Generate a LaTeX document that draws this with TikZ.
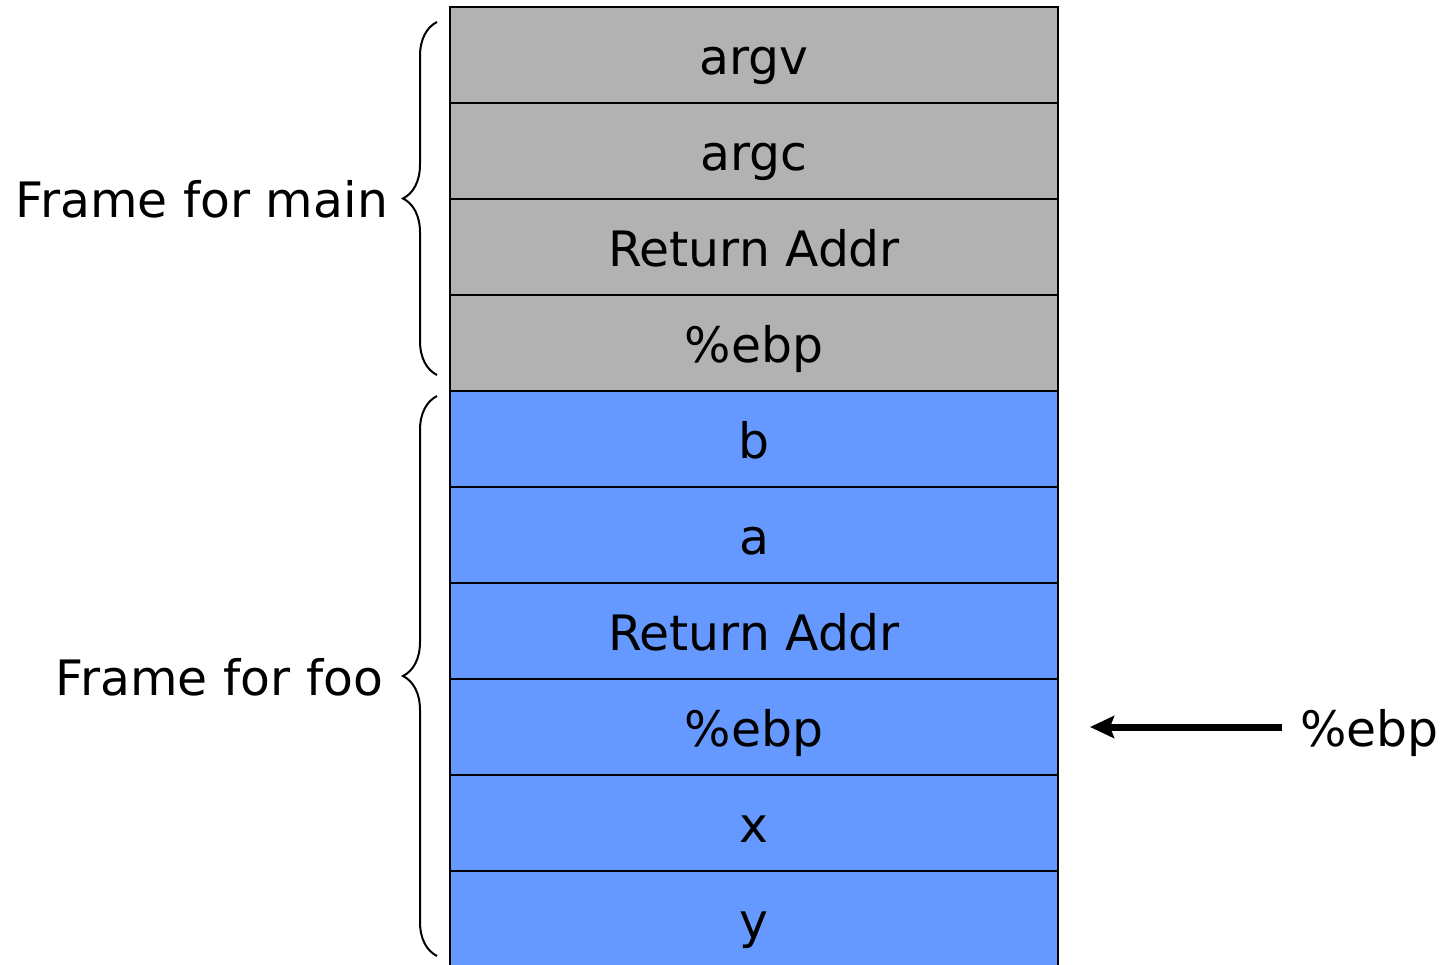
\documentclass[tikz,border=0pt]{standalone}
\usepackage{fontspec}
\setmainfont{DejaVu Sans}
\usetikzlibrary{positioning,decorations.pathreplacing,arrows.meta}
\definecolor{mauxam}{HTML}{B2B2B2}
\definecolor{mauxanh}{HTML}{6699FF}
\begin{document}
\begin{tikzpicture}[x=.5pt,y=-.5pt,
    font=\fontsize{24.4}{29}\selectfont,
    nhan/.style={inner sep=0pt,outer sep=0pt,text height=21pt,text depth=2pt},
    o/.style={nhan,draw,line width=1.3pt,minimum width=304pt,minimum height=48pt},
    oxam/.style={o,fill=mauxam},
    oxanh/.style={o,fill=mauxanh},
    ngoac/.style={decorate,decoration={brace,amplitude=17pt},line width=1pt},
    mui/.style={line width=3.5pt,-{Stealth[length=12pt,width=11pt,inset=2pt]}},
    ]
    \useasboundingbox (0,0) rectangle (1445,964);
    \path
    (754,55) node[oxam] (argv) {argv} % <<< frame main
    ++(0,96) node[oxam] (argc) {argc}
    ++(0,96) node[oxam] (ret1) {Return Addr}
    ++(0,96) node[oxam] (ebp1) {\%ebp}
    ++(0,96) node[oxanh] (vb) {b} % <<< frame foo
    ++(0,96) node[oxanh] (va) {a}
    ++(0,96) node[oxanh] (ret2) {Return Addr}
    ++(0,96) node[oxanh] (ebp2) {\%ebp}
    ++(0,96) node[oxanh] (vx) {x}
    ++(0,96) node[oxanh] (vy) {y};
    % ngoac
    \draw[ngoac] ([shift={(-13,-16)}]ebp1.south west)
        -- ([shift={(-13,15)}]argv.north west) coordinate[midway] (tmain);
    \draw[ngoac] ([shift={(-13,-11)}]vy.south west)
        -- ([shift={(-13,5)}]vb.north west) coordinate[midway] (tfoo);
    \node[nhan,left=24.5pt of tmain] (lbmain) {Frame for main};
    \node[nhan,left=27pt of tfoo] (lbfoo) {Frame for foo};
    % con tro
    \node[nhan,right=121pt of ebp2] (reg) {\%ebp};
    \draw[mui] ([xshift=-9pt]reg.west) -- ([xshift=16pt]ebp2.east);
\end{tikzpicture}
\end{document}
